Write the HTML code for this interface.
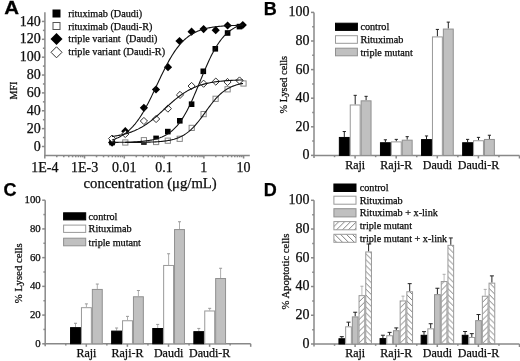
<!DOCTYPE html>
<html><head><meta charset="utf-8"><style>
html,body{margin:0;padding:0;background:#fff;}
body{width:520px;height:361px;overflow:hidden;}
svg{display:block;filter:grayscale(100%) blur(0.3px);}
text{stroke:#000;stroke-width:0.25px;}
</style></head><body>
<svg width="520" height="361" viewBox="0 0 520 361">
<rect width="520" height="361" fill="#fff"/>
<text x="0.00" y="0.00" font-family="'Liberation Sans', sans-serif" font-size="18" font-weight="700" text-anchor="start" fill="#000" transform="translate(4.2,13.9) scale(1.14,1)">A</text>
<text x="263.80" y="14.80" font-family="'Liberation Sans', sans-serif" font-size="18" font-weight="700" text-anchor="start" fill="#000" >B</text>
<text x="3.60" y="195.70" font-family="'Liberation Sans', sans-serif" font-size="18" font-weight="700" text-anchor="start" fill="#000" >C</text>
<text x="263.80" y="196.40" font-family="'Liberation Sans', sans-serif" font-size="18" font-weight="700" text-anchor="start" fill="#000" >D</text>
<line x1="44.90" y1="12.30" x2="44.90" y2="156.10" stroke="#888" stroke-width="1.5"/>
<line x1="44.30" y1="155.50" x2="249.80" y2="155.50" stroke="#888" stroke-width="1.5"/>
<line x1="41.90" y1="146.50" x2="44.90" y2="146.50" stroke="#888" stroke-width="1.5"/>
<text x="40.70" y="150.60" font-family="'Liberation Serif', serif" font-size="14" font-weight="400" text-anchor="end" fill="#111" >0</text>
<line x1="42.90" y1="137.57" x2="44.90" y2="137.57" stroke="#888" stroke-width="1.5"/>
<line x1="41.90" y1="128.63" x2="44.90" y2="128.63" stroke="#888" stroke-width="1.5"/>
<text x="40.70" y="132.73" font-family="'Liberation Serif', serif" font-size="14" font-weight="400" text-anchor="end" fill="#111" >20</text>
<line x1="42.90" y1="119.70" x2="44.90" y2="119.70" stroke="#888" stroke-width="1.5"/>
<line x1="41.90" y1="110.77" x2="44.90" y2="110.77" stroke="#888" stroke-width="1.5"/>
<text x="40.70" y="114.87" font-family="'Liberation Serif', serif" font-size="14" font-weight="400" text-anchor="end" fill="#111" >40</text>
<line x1="42.90" y1="101.84" x2="44.90" y2="101.84" stroke="#888" stroke-width="1.5"/>
<line x1="41.90" y1="92.90" x2="44.90" y2="92.90" stroke="#888" stroke-width="1.5"/>
<text x="40.70" y="97.00" font-family="'Liberation Serif', serif" font-size="14" font-weight="400" text-anchor="end" fill="#111" >60</text>
<line x1="42.90" y1="83.97" x2="44.90" y2="83.97" stroke="#888" stroke-width="1.5"/>
<line x1="41.90" y1="75.04" x2="44.90" y2="75.04" stroke="#888" stroke-width="1.5"/>
<text x="40.70" y="79.14" font-family="'Liberation Serif', serif" font-size="14" font-weight="400" text-anchor="end" fill="#111" >80</text>
<line x1="42.90" y1="66.10" x2="44.90" y2="66.10" stroke="#888" stroke-width="1.5"/>
<line x1="41.90" y1="57.17" x2="44.90" y2="57.17" stroke="#888" stroke-width="1.5"/>
<text x="40.70" y="61.27" font-family="'Liberation Serif', serif" font-size="14" font-weight="400" text-anchor="end" fill="#111" >100</text>
<line x1="42.90" y1="48.24" x2="44.90" y2="48.24" stroke="#888" stroke-width="1.5"/>
<line x1="41.90" y1="39.30" x2="44.90" y2="39.30" stroke="#888" stroke-width="1.5"/>
<text x="40.70" y="43.40" font-family="'Liberation Serif', serif" font-size="14" font-weight="400" text-anchor="end" fill="#111" >120</text>
<line x1="42.90" y1="30.37" x2="44.90" y2="30.37" stroke="#888" stroke-width="1.5"/>
<line x1="41.90" y1="21.44" x2="44.90" y2="21.44" stroke="#888" stroke-width="1.5"/>
<text x="40.70" y="25.54" font-family="'Liberation Serif', serif" font-size="14" font-weight="400" text-anchor="end" fill="#111" >140</text>
<line x1="44.80" y1="155.50" x2="44.80" y2="158.50" stroke="#888" stroke-width="1.5"/>
<text x="44.80" y="171.90" font-family="'Liberation Serif', serif" font-size="14" font-weight="400" text-anchor="middle" fill="#111" >1E-4</text>
<line x1="56.77" y1="155.50" x2="56.77" y2="157.30" stroke="#888" stroke-width="1.5"/>
<line x1="63.77" y1="155.50" x2="63.77" y2="157.30" stroke="#888" stroke-width="1.5"/>
<line x1="68.74" y1="155.50" x2="68.74" y2="157.30" stroke="#888" stroke-width="1.5"/>
<line x1="72.59" y1="155.50" x2="72.59" y2="157.30" stroke="#888" stroke-width="1.5"/>
<line x1="75.74" y1="155.50" x2="75.74" y2="157.30" stroke="#888" stroke-width="1.5"/>
<line x1="78.40" y1="155.50" x2="78.40" y2="157.30" stroke="#888" stroke-width="1.5"/>
<line x1="80.71" y1="155.50" x2="80.71" y2="157.30" stroke="#888" stroke-width="1.5"/>
<line x1="82.74" y1="155.50" x2="82.74" y2="157.30" stroke="#888" stroke-width="1.5"/>
<line x1="84.56" y1="155.50" x2="84.56" y2="158.50" stroke="#888" stroke-width="1.5"/>
<text x="84.56" y="171.90" font-family="'Liberation Serif', serif" font-size="14" font-weight="400" text-anchor="middle" fill="#111" >1E-3</text>
<line x1="96.53" y1="155.50" x2="96.53" y2="157.30" stroke="#888" stroke-width="1.5"/>
<line x1="103.53" y1="155.50" x2="103.53" y2="157.30" stroke="#888" stroke-width="1.5"/>
<line x1="108.50" y1="155.50" x2="108.50" y2="157.30" stroke="#888" stroke-width="1.5"/>
<line x1="112.35" y1="155.50" x2="112.35" y2="157.30" stroke="#888" stroke-width="1.5"/>
<line x1="115.50" y1="155.50" x2="115.50" y2="157.30" stroke="#888" stroke-width="1.5"/>
<line x1="118.16" y1="155.50" x2="118.16" y2="157.30" stroke="#888" stroke-width="1.5"/>
<line x1="120.47" y1="155.50" x2="120.47" y2="157.30" stroke="#888" stroke-width="1.5"/>
<line x1="122.50" y1="155.50" x2="122.50" y2="157.30" stroke="#888" stroke-width="1.5"/>
<line x1="124.32" y1="155.50" x2="124.32" y2="158.50" stroke="#888" stroke-width="1.5"/>
<text x="124.32" y="171.90" font-family="'Liberation Serif', serif" font-size="14" font-weight="400" text-anchor="middle" fill="#111" >0.01</text>
<line x1="136.29" y1="155.50" x2="136.29" y2="157.30" stroke="#888" stroke-width="1.5"/>
<line x1="143.29" y1="155.50" x2="143.29" y2="157.30" stroke="#888" stroke-width="1.5"/>
<line x1="148.26" y1="155.50" x2="148.26" y2="157.30" stroke="#888" stroke-width="1.5"/>
<line x1="152.11" y1="155.50" x2="152.11" y2="157.30" stroke="#888" stroke-width="1.5"/>
<line x1="155.26" y1="155.50" x2="155.26" y2="157.30" stroke="#888" stroke-width="1.5"/>
<line x1="157.92" y1="155.50" x2="157.92" y2="157.30" stroke="#888" stroke-width="1.5"/>
<line x1="160.23" y1="155.50" x2="160.23" y2="157.30" stroke="#888" stroke-width="1.5"/>
<line x1="162.26" y1="155.50" x2="162.26" y2="157.30" stroke="#888" stroke-width="1.5"/>
<line x1="164.08" y1="155.50" x2="164.08" y2="158.50" stroke="#888" stroke-width="1.5"/>
<text x="164.08" y="171.90" font-family="'Liberation Serif', serif" font-size="14" font-weight="400" text-anchor="middle" fill="#111" >0.1</text>
<line x1="176.05" y1="155.50" x2="176.05" y2="157.30" stroke="#888" stroke-width="1.5"/>
<line x1="183.05" y1="155.50" x2="183.05" y2="157.30" stroke="#888" stroke-width="1.5"/>
<line x1="188.02" y1="155.50" x2="188.02" y2="157.30" stroke="#888" stroke-width="1.5"/>
<line x1="191.87" y1="155.50" x2="191.87" y2="157.30" stroke="#888" stroke-width="1.5"/>
<line x1="195.02" y1="155.50" x2="195.02" y2="157.30" stroke="#888" stroke-width="1.5"/>
<line x1="197.68" y1="155.50" x2="197.68" y2="157.30" stroke="#888" stroke-width="1.5"/>
<line x1="199.99" y1="155.50" x2="199.99" y2="157.30" stroke="#888" stroke-width="1.5"/>
<line x1="202.02" y1="155.50" x2="202.02" y2="157.30" stroke="#888" stroke-width="1.5"/>
<line x1="203.84" y1="155.50" x2="203.84" y2="158.50" stroke="#888" stroke-width="1.5"/>
<text x="203.84" y="171.90" font-family="'Liberation Serif', serif" font-size="14" font-weight="400" text-anchor="middle" fill="#111" >1</text>
<line x1="215.81" y1="155.50" x2="215.81" y2="157.30" stroke="#888" stroke-width="1.5"/>
<line x1="222.81" y1="155.50" x2="222.81" y2="157.30" stroke="#888" stroke-width="1.5"/>
<line x1="227.78" y1="155.50" x2="227.78" y2="157.30" stroke="#888" stroke-width="1.5"/>
<line x1="231.63" y1="155.50" x2="231.63" y2="157.30" stroke="#888" stroke-width="1.5"/>
<line x1="234.78" y1="155.50" x2="234.78" y2="157.30" stroke="#888" stroke-width="1.5"/>
<line x1="237.44" y1="155.50" x2="237.44" y2="157.30" stroke="#888" stroke-width="1.5"/>
<line x1="239.75" y1="155.50" x2="239.75" y2="157.30" stroke="#888" stroke-width="1.5"/>
<line x1="241.78" y1="155.50" x2="241.78" y2="157.30" stroke="#888" stroke-width="1.5"/>
<line x1="243.60" y1="155.50" x2="243.60" y2="158.50" stroke="#888" stroke-width="1.5"/>
<text x="243.60" y="171.90" font-family="'Liberation Serif', serif" font-size="14" font-weight="400" text-anchor="middle" fill="#111" >10</text>
<text x="83.60" y="188.40" font-family="'Liberation Serif', serif" font-size="14.7" font-weight="400" text-anchor="start" fill="#111" >concentration (μg/mL)</text>
<text transform="translate(17.2,90.5) rotate(-90)" font-family="'Liberation Serif', serif" font-size="10" text-anchor="middle" fill="#111">MFI</text>
<rect x="52.50" y="9.50" width="8" height="8" fill="#000"/>
<rect x="53.00" y="22.50" width="7" height="7" fill="#fff" stroke="#555" stroke-width="1"/>
<polygon points="56.50,33.00 62.50,39.00 56.50,45.00 50.50,39.00" fill="#000"/>
<polygon points="56.50,46.80 62.00,52.30 56.50,57.80 51.00,52.30" fill="#fff" stroke="#333" stroke-width="1"/>
<text x="68.30" y="16.80" font-family="'Liberation Serif', serif" font-size="10.2" font-weight="400" text-anchor="start" fill="#111" >rituximab (Daudi)</text>
<text x="68.30" y="29.60" font-family="'Liberation Serif', serif" font-size="10.2" font-weight="400" text-anchor="start" fill="#111" >rituximab (Daudi-R)</text>
<text x="68.30" y="42.40" font-family="'Liberation Serif', serif" font-size="10.2" font-weight="400" text-anchor="start" fill="#111" >triple variant&#160; (Daudi)</text>
<text x="68.30" y="55.20" font-family="'Liberation Serif', serif" font-size="10.2" font-weight="400" text-anchor="start" fill="#111" >triple variant (Daudi-R)</text>
<rect x="109.30" y="139.70" width="5.6" height="5.6" fill="#000"/>
<rect x="141.10" y="139.20" width="5.6" height="5.6" fill="#000"/>
<rect x="153.30" y="135.60" width="5.6" height="5.6" fill="#000"/>
<rect x="165.00" y="128.80" width="5.6" height="5.6" fill="#000"/>
<rect x="177.00" y="118.00" width="5.6" height="5.6" fill="#000"/>
<rect x="188.80" y="101.40" width="5.6" height="5.6" fill="#000"/>
<rect x="200.50" y="68.50" width="5.6" height="5.6" fill="#000"/>
<rect x="212.50" y="46.00" width="5.6" height="5.6" fill="#000"/>
<rect x="224.80" y="30.20" width="5.6" height="5.6" fill="#000"/>
<rect x="236.70" y="23.80" width="5.6" height="5.6" fill="#000"/>
<rect x="122.70" y="139.90" width="5.2" height="5.2" fill="#fff" stroke="#888" stroke-width="1"/>
<rect x="141.30" y="137.60" width="5.2" height="5.2" fill="#fff" stroke="#888" stroke-width="1"/>
<rect x="153.50" y="139.40" width="5.2" height="5.2" fill="#fff" stroke="#888" stroke-width="1"/>
<rect x="165.20" y="138.10" width="5.2" height="5.2" fill="#fff" stroke="#888" stroke-width="1"/>
<rect x="177.10" y="136.20" width="5.2" height="5.2" fill="#fff" stroke="#888" stroke-width="1"/>
<rect x="189.10" y="125.30" width="5.2" height="5.2" fill="#fff" stroke="#888" stroke-width="1"/>
<rect x="201.00" y="111.50" width="5.2" height="5.2" fill="#fff" stroke="#888" stroke-width="1"/>
<rect x="213.00" y="96.20" width="5.2" height="5.2" fill="#fff" stroke="#888" stroke-width="1"/>
<rect x="225.00" y="86.70" width="5.2" height="5.2" fill="#fff" stroke="#888" stroke-width="1"/>
<rect x="240.90" y="80.90" width="5.2" height="5.2" fill="#fff" stroke="#888" stroke-width="1"/>
<polygon points="112.10,138.50 116.20,142.60 112.10,146.70 108.00,142.60" fill="#000"/>
<polygon points="125.30,127.10 129.40,131.20 125.30,135.30 121.20,131.20" fill="#000"/>
<polygon points="143.90,103.70 148.00,107.80 143.90,111.90 139.80,107.80" fill="#000"/>
<polygon points="156.00,85.40 160.10,89.50 156.00,93.60 151.90,89.50" fill="#000"/>
<polygon points="168.00,63.10 172.10,67.20 168.00,71.30 163.90,67.20" fill="#000"/>
<polygon points="179.50,36.90 183.60,41.00 179.50,45.10 175.40,41.00" fill="#000"/>
<polygon points="191.60,27.60 195.70,31.70 191.60,35.80 187.50,31.70" fill="#000"/>
<polygon points="203.60,25.00 207.70,29.10 203.60,33.20 199.50,29.10" fill="#000"/>
<polygon points="215.70,26.10 219.80,30.20 215.70,34.30 211.60,30.20" fill="#000"/>
<polygon points="227.60,21.40 231.70,25.50 227.60,29.60 223.50,25.50" fill="#000"/>
<polygon points="242.80,20.90 246.90,25.00 242.80,29.10 238.70,25.00" fill="#000"/>
<polygon points="112.10,135.00 115.70,138.60 112.10,142.20 108.50,138.60" fill="#fff" stroke="#333" stroke-width="1"/>
<polygon points="125.30,130.40 128.90,134.00 125.30,137.60 121.70,134.00" fill="#fff" stroke="#333" stroke-width="1"/>
<polygon points="143.90,117.40 147.50,121.00 143.90,124.60 140.30,121.00" fill="#fff" stroke="#333" stroke-width="1"/>
<polygon points="156.10,115.40 159.70,119.00 156.10,122.60 152.50,119.00" fill="#fff" stroke="#333" stroke-width="1"/>
<polygon points="167.90,105.00 171.50,108.60 167.90,112.20 164.30,108.60" fill="#fff" stroke="#333" stroke-width="1"/>
<polygon points="180.00,91.30 183.60,94.90 180.00,98.50 176.40,94.90" fill="#fff" stroke="#333" stroke-width="1"/>
<polygon points="191.60,82.40 195.20,86.00 191.60,89.60 188.00,86.00" fill="#fff" stroke="#333" stroke-width="1"/>
<polygon points="203.60,80.10 207.20,83.70 203.60,87.30 200.00,83.70" fill="#fff" stroke="#333" stroke-width="1"/>
<polygon points="215.80,78.00 219.40,81.60 215.80,85.20 212.20,81.60" fill="#fff" stroke="#333" stroke-width="1"/>
<polygon points="227.50,78.40 231.10,82.00 227.50,85.60 223.90,82.00" fill="#fff" stroke="#333" stroke-width="1"/>
<polygon points="239.50,76.90 243.10,80.50 239.50,84.10 235.90,80.50" fill="#fff" stroke="#333" stroke-width="1"/>
<path d="M112.00,139.98 L113.00,139.65 L114.00,139.30 L115.00,138.93 L116.00,138.53 L117.00,138.10 L118.00,137.65 L119.00,137.17 L120.00,136.65 L121.00,136.11 L122.00,135.53 L123.00,134.91 L124.00,134.25 L125.00,133.56 L126.00,132.82 L127.00,132.04 L128.00,131.22 L129.00,130.34 L130.00,129.42 L131.00,128.45 L132.00,127.43 L133.00,126.35 L134.00,125.22 L135.00,124.03 L136.00,122.78 L137.00,121.48 L138.00,120.12 L139.00,118.70 L140.00,117.22 L141.00,115.68 L142.00,114.09 L143.00,112.43 L144.00,110.73 L145.00,108.97 L146.00,107.15 L147.00,105.29 L148.00,103.39 L149.00,101.44 L150.00,99.45 L151.00,97.42 L152.00,95.37 L153.00,93.29 L154.00,91.18 L155.00,89.06 L156.00,86.93 L157.00,84.80 L158.00,82.67 L159.00,80.54 L160.00,78.42 L161.00,76.31 L162.00,74.23 L163.00,72.18 L164.00,70.15 L165.00,68.16 L166.00,66.21 L167.00,64.31 L168.00,62.45 L169.00,60.63 L170.00,58.87 L171.00,57.17 L172.00,55.51 L173.00,53.92 L174.00,52.38 L175.00,50.90 L176.00,49.48 L177.00,48.12 L178.00,46.82 L179.00,45.57 L180.00,44.38 L181.00,43.25 L182.00,42.17 L183.00,41.15 L184.00,40.18 L185.00,39.26 L186.00,38.38 L187.00,37.56 L188.00,36.78 L189.00,36.04 L190.00,35.35 L191.00,34.69 L192.00,34.07 L193.00,33.49 L194.00,32.95 L195.00,32.43 L196.00,31.95 L197.00,31.50 L198.00,31.07 L199.00,30.67 L200.00,30.30 L201.00,29.95 L202.00,29.62 L203.00,29.31 L204.00,29.03 L205.00,28.76 L206.00,28.51 L207.00,28.27 L208.00,28.05 L209.00,27.85 L210.00,27.65 L211.00,27.47 L212.00,27.31 L213.00,27.15 L214.00,27.01 L215.00,26.87 L216.00,26.74 L217.00,26.62 L218.00,26.51 L219.00,26.41 L220.00,26.31 L221.00,26.22 L222.00,26.14 L223.00,26.06 L224.00,25.99 L225.00,25.92 L226.00,25.86 L227.00,25.80 L228.00,25.75 L229.00,25.69 L230.00,25.65 L231.00,25.60 L232.00,25.56 L233.00,25.52 L234.00,25.49 L235.00,25.45 L236.00,25.42 L237.00,25.39 L238.00,25.37 L239.00,25.34 L240.00,25.32 L241.00,25.30 L242.00,25.28 L243.00,25.26" fill="none" stroke="#111" stroke-width="1.1"/>
<path d="M112.00,136.46 L113.00,136.33 L114.00,136.19 L115.00,136.04 L116.00,135.88 L117.00,135.71 L118.00,135.54 L119.00,135.35 L120.00,135.15 L121.00,134.94 L122.00,134.72 L123.00,134.49 L124.00,134.24 L125.00,133.99 L126.00,133.71 L127.00,133.42 L128.00,133.12 L129.00,132.80 L130.00,132.47 L131.00,132.12 L132.00,131.75 L133.00,131.36 L134.00,130.95 L135.00,130.53 L136.00,130.08 L137.00,129.61 L138.00,129.13 L139.00,128.62 L140.00,128.09 L141.00,127.54 L142.00,126.97 L143.00,126.37 L144.00,125.76 L145.00,125.12 L146.00,124.45 L147.00,123.77 L148.00,123.07 L149.00,122.34 L150.00,121.59 L151.00,120.83 L152.00,120.04 L153.00,119.23 L154.00,118.41 L155.00,117.57 L156.00,116.72 L157.00,115.85 L158.00,114.97 L159.00,114.08 L160.00,113.18 L161.00,112.27 L162.00,111.35 L163.00,110.43 L164.00,109.51 L165.00,108.59 L166.00,107.67 L167.00,106.75 L168.00,105.83 L169.00,104.92 L170.00,104.02 L171.00,103.13 L172.00,102.25 L173.00,101.38 L174.00,100.53 L175.00,99.69 L176.00,98.87 L177.00,98.06 L178.00,97.27 L179.00,96.51 L180.00,95.76 L181.00,95.03 L182.00,94.33 L183.00,93.65 L184.00,92.98 L185.00,92.34 L186.00,91.73 L187.00,91.13 L188.00,90.56 L189.00,90.01 L190.00,89.48 L191.00,88.97 L192.00,88.49 L193.00,88.02 L194.00,87.57 L195.00,87.15 L196.00,86.74 L197.00,86.35 L198.00,85.98 L199.00,85.63 L200.00,85.30 L201.00,84.98 L202.00,84.68 L203.00,84.39 L204.00,84.11 L205.00,83.86 L206.00,83.61 L207.00,83.38 L208.00,83.16 L209.00,82.95 L210.00,82.75 L211.00,82.56 L212.00,82.39 L213.00,82.22 L214.00,82.06 L215.00,81.91 L216.00,81.77 L217.00,81.64 L218.00,81.52 L219.00,81.40 L220.00,81.29 L221.00,81.18 L222.00,81.08 L223.00,80.99 L224.00,80.90 L225.00,80.82 L226.00,80.74 L227.00,80.67 L228.00,80.60 L229.00,80.53 L230.00,80.47 L231.00,80.41 L232.00,80.36 L233.00,80.31 L234.00,80.26 L235.00,80.21 L236.00,80.17 L237.00,80.13 L238.00,80.09 L239.00,80.06 L240.00,80.02 L241.00,79.99 L242.00,79.96 L243.00,79.93" fill="none" stroke="#111" stroke-width="1.1"/>
<path d="M112.00,142.39 L113.00,142.38 L114.00,142.37 L115.00,142.36 L116.00,142.35 L117.00,142.34 L118.00,142.33 L119.00,142.31 L120.00,142.30 L121.00,142.28 L122.00,142.26 L123.00,142.24 L124.00,142.22 L125.00,142.20 L126.00,142.17 L127.00,142.15 L128.00,142.12 L129.00,142.09 L130.00,142.05 L131.00,142.01 L132.00,141.97 L133.00,141.93 L134.00,141.88 L135.00,141.83 L136.00,141.78 L137.00,141.72 L138.00,141.65 L139.00,141.58 L140.00,141.50 L141.00,141.42 L142.00,141.33 L143.00,141.24 L144.00,141.13 L145.00,141.02 L146.00,140.90 L147.00,140.77 L148.00,140.63 L149.00,140.47 L150.00,140.31 L151.00,140.13 L152.00,139.94 L153.00,139.73 L154.00,139.50 L155.00,139.26 L156.00,139.00 L157.00,138.71 L158.00,138.41 L159.00,138.08 L160.00,137.73 L161.00,137.34 L162.00,136.94 L163.00,136.49 L164.00,136.02 L165.00,135.51 L166.00,134.97 L167.00,134.38 L168.00,133.75 L169.00,133.08 L170.00,132.36 L171.00,131.59 L172.00,130.77 L173.00,129.90 L174.00,128.96 L175.00,127.97 L176.00,126.91 L177.00,125.79 L178.00,124.61 L179.00,123.35 L180.00,122.02 L181.00,120.62 L182.00,119.15 L183.00,117.60 L184.00,115.98 L185.00,114.28 L186.00,112.51 L187.00,110.67 L188.00,108.75 L189.00,106.76 L190.00,104.71 L191.00,102.59 L192.00,100.41 L193.00,98.18 L194.00,95.90 L195.00,93.58 L196.00,91.22 L197.00,88.83 L198.00,86.42 L199.00,83.99 L200.00,81.55 L201.00,79.11 L202.00,76.68 L203.00,74.27 L204.00,71.88 L205.00,69.52 L206.00,67.20 L207.00,64.92 L208.00,62.69 L209.00,60.51 L210.00,58.39 L211.00,56.34 L212.00,54.35 L213.00,52.43 L214.00,50.59 L215.00,48.82 L216.00,47.12 L217.00,45.50 L218.00,43.95 L219.00,42.48 L220.00,41.08 L221.00,39.75 L222.00,38.49 L223.00,37.31 L224.00,36.19 L225.00,35.13 L226.00,34.14 L227.00,33.20 L228.00,32.33 L229.00,31.51 L230.00,30.74 L231.00,30.02 L232.00,29.35 L233.00,28.72 L234.00,28.13 L235.00,27.59 L236.00,27.08 L237.00,26.61 L238.00,26.16 L239.00,25.76 L240.00,25.37 L241.00,25.02 L242.00,24.69 L243.00,24.39" fill="none" stroke="#111" stroke-width="1.1"/>
<path d="M125.00,142.46 L126.00,142.46 L127.00,142.45 L128.00,142.45 L129.00,142.44 L130.00,142.44 L131.00,142.43 L132.00,142.42 L133.00,142.42 L134.00,142.41 L135.00,142.40 L136.00,142.39 L137.00,142.38 L138.00,142.37 L139.00,142.36 L140.00,142.34 L141.00,142.33 L142.00,142.31 L143.00,142.29 L144.00,142.27 L145.00,142.25 L146.00,142.23 L147.00,142.20 L148.00,142.17 L149.00,142.14 L150.00,142.11 L151.00,142.07 L152.00,142.03 L153.00,141.99 L154.00,141.94 L155.00,141.89 L156.00,141.83 L157.00,141.77 L158.00,141.70 L159.00,141.62 L160.00,141.54 L161.00,141.45 L162.00,141.35 L163.00,141.25 L164.00,141.13 L165.00,141.00 L166.00,140.86 L167.00,140.71 L168.00,140.55 L169.00,140.37 L170.00,140.17 L171.00,139.96 L172.00,139.73 L173.00,139.48 L174.00,139.21 L175.00,138.91 L176.00,138.59 L177.00,138.25 L178.00,137.87 L179.00,137.47 L180.00,137.03 L181.00,136.56 L182.00,136.06 L183.00,135.51 L184.00,134.93 L185.00,134.31 L186.00,133.64 L187.00,132.93 L188.00,132.18 L189.00,131.37 L190.00,130.52 L191.00,129.62 L192.00,128.67 L193.00,127.68 L194.00,126.63 L195.00,125.54 L196.00,124.41 L197.00,123.23 L198.00,122.01 L199.00,120.76 L200.00,119.47 L201.00,118.15 L202.00,116.81 L203.00,115.45 L204.00,114.08 L205.00,112.69 L206.00,111.31 L207.00,109.92 L208.00,108.55 L209.00,107.19 L210.00,105.85 L211.00,104.53 L212.00,103.24 L213.00,101.99 L214.00,100.77 L215.00,99.59 L216.00,98.46 L217.00,97.37 L218.00,96.32 L219.00,95.33 L220.00,94.38 L221.00,93.48 L222.00,92.63 L223.00,91.82 L224.00,91.07 L225.00,90.36 L226.00,89.69 L227.00,89.07 L228.00,88.49 L229.00,87.94 L230.00,87.44 L231.00,86.97 L232.00,86.53 L233.00,86.13 L234.00,85.75 L235.00,85.41 L236.00,85.09 L237.00,84.79 L238.00,84.52 L239.00,84.27 L240.00,84.04 L241.00,83.83 L242.00,83.63 L243.00,83.45" fill="none" stroke="#111" stroke-width="1.1"/>
<defs><pattern id="hf" patternUnits="userSpaceOnUse" width="5.9" height="5.9"><path d="M-1,6.9 L6.9,-1 M-1,1 L1,-1 M4.9,6.9 L6.9,4.9" stroke="#666" stroke-width="0.85"/></pattern><pattern id="hb" patternUnits="userSpaceOnUse" width="5.9" height="5.9"><path d="M-1,-1 L6.9,6.9 M4.9,-1 L6.9,1 M-1,4.9 L1,6.9" stroke="#666" stroke-width="0.85"/></pattern></defs>
<line x1="314.00" y1="12.40" x2="314.00" y2="157.90" stroke="#888" stroke-width="1.5"/>
<line x1="313.40" y1="155.40" x2="519.50" y2="155.40" stroke="#888" stroke-width="1.5"/>
<line x1="311.00" y1="155.40" x2="314.00" y2="155.40" stroke="#888" stroke-width="1.5"/>
<text x="309.50" y="159.36" font-family="'Liberation Serif', serif" font-size="14" font-weight="400" text-anchor="end" fill="#111" >0</text>
<line x1="312.20" y1="141.10" x2="314.00" y2="141.10" stroke="#888" stroke-width="1.5"/>
<line x1="311.00" y1="126.80" x2="314.00" y2="126.80" stroke="#888" stroke-width="1.5"/>
<text x="309.50" y="130.76" font-family="'Liberation Serif', serif" font-size="14" font-weight="400" text-anchor="end" fill="#111" >20</text>
<line x1="312.20" y1="112.50" x2="314.00" y2="112.50" stroke="#888" stroke-width="1.5"/>
<line x1="311.00" y1="98.20" x2="314.00" y2="98.20" stroke="#888" stroke-width="1.5"/>
<text x="309.50" y="102.16" font-family="'Liberation Serif', serif" font-size="14" font-weight="400" text-anchor="end" fill="#111" >40</text>
<line x1="312.20" y1="83.90" x2="314.00" y2="83.90" stroke="#888" stroke-width="1.5"/>
<line x1="311.00" y1="69.60" x2="314.00" y2="69.60" stroke="#888" stroke-width="1.5"/>
<text x="309.50" y="73.56" font-family="'Liberation Serif', serif" font-size="14" font-weight="400" text-anchor="end" fill="#111" >60</text>
<line x1="312.20" y1="55.30" x2="314.00" y2="55.30" stroke="#888" stroke-width="1.5"/>
<line x1="311.00" y1="41.00" x2="314.00" y2="41.00" stroke="#888" stroke-width="1.5"/>
<text x="309.50" y="44.96" font-family="'Liberation Serif', serif" font-size="14" font-weight="400" text-anchor="end" fill="#111" >80</text>
<line x1="312.20" y1="26.70" x2="314.00" y2="26.70" stroke="#888" stroke-width="1.5"/>
<line x1="311.00" y1="12.40" x2="314.00" y2="12.40" stroke="#888" stroke-width="1.5"/>
<text x="309.50" y="16.36" font-family="'Liberation Serif', serif" font-size="14" font-weight="400" text-anchor="end" fill="#111" >100</text>
<line x1="334.55" y1="155.40" x2="334.55" y2="157.20" stroke="#888" stroke-width="1.5"/>
<line x1="355.10" y1="155.40" x2="355.10" y2="158.40" stroke="#888" stroke-width="1.5"/>
<line x1="375.65" y1="155.40" x2="375.65" y2="157.20" stroke="#888" stroke-width="1.5"/>
<line x1="396.20" y1="155.40" x2="396.20" y2="158.40" stroke="#888" stroke-width="1.5"/>
<line x1="416.75" y1="155.40" x2="416.75" y2="157.20" stroke="#888" stroke-width="1.5"/>
<line x1="437.30" y1="155.40" x2="437.30" y2="158.40" stroke="#888" stroke-width="1.5"/>
<line x1="457.85" y1="155.40" x2="457.85" y2="157.20" stroke="#888" stroke-width="1.5"/>
<line x1="478.40" y1="155.40" x2="478.40" y2="158.40" stroke="#888" stroke-width="1.5"/>
<line x1="498.95" y1="155.40" x2="498.95" y2="157.20" stroke="#888" stroke-width="1.5"/>
<line x1="519.50" y1="155.40" x2="519.50" y2="158.40" stroke="#888" stroke-width="1.5"/>
<text x="355.20" y="168.50" font-family="'Liberation Serif', serif" font-size="12" font-weight="400" text-anchor="middle" fill="#111" >Raji</text>
<line x1="344.30" y1="136.95" x2="344.30" y2="131.52" stroke="#222" stroke-width="1"/>
<line x1="342.70" y1="131.52" x2="345.90" y2="131.52" stroke="#222" stroke-width="1"/>
<rect x="339.35" y="137.45" width="9.90" height="17.95" fill="#000" stroke="#000" stroke-width="1"/>
<line x1="355.20" y1="104.49" x2="355.20" y2="95.34" stroke="#222" stroke-width="1"/>
<line x1="353.60" y1="95.34" x2="356.80" y2="95.34" stroke="#222" stroke-width="1"/>
<rect x="350.25" y="104.99" width="9.90" height="50.41" fill="#fff" stroke="#999" stroke-width="1"/>
<line x1="366.10" y1="100.34" x2="366.10" y2="96.34" stroke="#222" stroke-width="1"/>
<line x1="364.50" y1="96.34" x2="367.70" y2="96.34" stroke="#222" stroke-width="1"/>
<rect x="361.15" y="100.84" width="9.90" height="54.56" fill="#c0c0c0" stroke="#909090" stroke-width="1"/>
<text x="396.30" y="168.50" font-family="'Liberation Serif', serif" font-size="12" font-weight="400" text-anchor="middle" fill="#111" >Raji-R</text>
<line x1="385.40" y1="142.24" x2="385.40" y2="139.81" stroke="#222" stroke-width="1"/>
<line x1="383.80" y1="139.81" x2="387.00" y2="139.81" stroke="#222" stroke-width="1"/>
<rect x="380.45" y="142.74" width="9.90" height="12.66" fill="#000" stroke="#000" stroke-width="1"/>
<line x1="396.30" y1="141.39" x2="396.30" y2="139.38" stroke="#222" stroke-width="1"/>
<line x1="394.70" y1="139.38" x2="397.90" y2="139.38" stroke="#222" stroke-width="1"/>
<rect x="391.35" y="141.89" width="9.90" height="13.51" fill="#fff" stroke="#999" stroke-width="1"/>
<line x1="407.20" y1="139.67" x2="407.20" y2="136.67" stroke="#222" stroke-width="1"/>
<line x1="405.60" y1="136.67" x2="408.80" y2="136.67" stroke="#222" stroke-width="1"/>
<rect x="402.25" y="140.17" width="9.90" height="15.23" fill="#c0c0c0" stroke="#909090" stroke-width="1"/>
<text x="437.40" y="168.50" font-family="'Liberation Serif', serif" font-size="12" font-weight="400" text-anchor="middle" fill="#111" >Daudi</text>
<line x1="426.50" y1="139.10" x2="426.50" y2="135.95" stroke="#222" stroke-width="1"/>
<line x1="424.90" y1="135.95" x2="428.10" y2="135.95" stroke="#222" stroke-width="1"/>
<rect x="421.55" y="139.60" width="9.90" height="15.80" fill="#000" stroke="#000" stroke-width="1"/>
<line x1="437.40" y1="36.42" x2="437.40" y2="29.42" stroke="#222" stroke-width="1"/>
<line x1="435.80" y1="29.42" x2="439.00" y2="29.42" stroke="#222" stroke-width="1"/>
<rect x="432.45" y="36.92" width="9.90" height="118.48" fill="#fff" stroke="#999" stroke-width="1"/>
<line x1="448.30" y1="28.56" x2="448.30" y2="22.12" stroke="#222" stroke-width="1"/>
<line x1="446.70" y1="22.12" x2="449.90" y2="22.12" stroke="#222" stroke-width="1"/>
<rect x="443.35" y="29.06" width="9.90" height="126.34" fill="#c0c0c0" stroke="#909090" stroke-width="1"/>
<text x="478.50" y="168.50" font-family="'Liberation Serif', serif" font-size="12" font-weight="400" text-anchor="middle" fill="#111" >Daudi-R</text>
<line x1="467.60" y1="142.24" x2="467.60" y2="139.38" stroke="#222" stroke-width="1"/>
<line x1="466.00" y1="139.38" x2="469.20" y2="139.38" stroke="#222" stroke-width="1"/>
<rect x="462.65" y="142.74" width="9.90" height="12.66" fill="#000" stroke="#000" stroke-width="1"/>
<line x1="478.50" y1="140.24" x2="478.50" y2="137.38" stroke="#222" stroke-width="1"/>
<line x1="476.90" y1="137.38" x2="480.10" y2="137.38" stroke="#222" stroke-width="1"/>
<rect x="473.55" y="140.74" width="9.90" height="14.66" fill="#fff" stroke="#999" stroke-width="1"/>
<line x1="489.40" y1="138.96" x2="489.40" y2="135.24" stroke="#222" stroke-width="1"/>
<line x1="487.80" y1="135.24" x2="491.00" y2="135.24" stroke="#222" stroke-width="1"/>
<rect x="484.45" y="139.46" width="9.90" height="15.94" fill="#c0c0c0" stroke="#909090" stroke-width="1"/>
<rect x="335.50" y="23.20" width="21.90" height="7.20" fill="#000" stroke="#000" stroke-width="1"/>
<text x="360.40" y="30.40" font-family="'Liberation Serif', serif" font-size="10.2" font-weight="400" text-anchor="start" fill="#111" >control</text>
<rect x="335.50" y="35.70" width="21.90" height="7.60" fill="#fff" stroke="#999" stroke-width="1"/>
<text x="360.40" y="43.10" font-family="'Liberation Serif', serif" font-size="10.2" font-weight="400" text-anchor="start" fill="#111" >Rituximab</text>
<rect x="335.50" y="48.20" width="21.90" height="7.60" fill="#c0c0c0" stroke="#909090" stroke-width="1"/>
<text x="360.40" y="55.60" font-family="'Liberation Serif', serif" font-size="10.2" font-weight="400" text-anchor="start" fill="#111" >triple mutant</text>
<text transform="translate(287.4,84.75) rotate(-90)" font-family="'Liberation Serif', serif" font-size="10.4" text-anchor="middle" fill="#111">% Lysed cells</text>
<line x1="45.20" y1="200.20" x2="45.20" y2="346.30" stroke="#888" stroke-width="1.5"/>
<line x1="44.60" y1="343.80" x2="250.70" y2="343.80" stroke="#888" stroke-width="1.5"/>
<line x1="42.20" y1="343.80" x2="45.20" y2="343.80" stroke="#888" stroke-width="1.5"/>
<text x="40.70" y="346.67" font-family="'Liberation Serif', serif" font-size="10.8" font-weight="400" text-anchor="end" fill="#111" >0</text>
<line x1="43.40" y1="329.44" x2="45.20" y2="329.44" stroke="#888" stroke-width="1.5"/>
<line x1="42.20" y1="315.08" x2="45.20" y2="315.08" stroke="#888" stroke-width="1.5"/>
<text x="40.70" y="317.95" font-family="'Liberation Serif', serif" font-size="10.8" font-weight="400" text-anchor="end" fill="#111" >20</text>
<line x1="43.40" y1="300.72" x2="45.20" y2="300.72" stroke="#888" stroke-width="1.5"/>
<line x1="42.20" y1="286.36" x2="45.20" y2="286.36" stroke="#888" stroke-width="1.5"/>
<text x="40.70" y="289.23" font-family="'Liberation Serif', serif" font-size="10.8" font-weight="400" text-anchor="end" fill="#111" >40</text>
<line x1="43.40" y1="272.00" x2="45.20" y2="272.00" stroke="#888" stroke-width="1.5"/>
<line x1="42.20" y1="257.64" x2="45.20" y2="257.64" stroke="#888" stroke-width="1.5"/>
<text x="40.70" y="260.51" font-family="'Liberation Serif', serif" font-size="10.8" font-weight="400" text-anchor="end" fill="#111" >60</text>
<line x1="43.40" y1="243.28" x2="45.20" y2="243.28" stroke="#888" stroke-width="1.5"/>
<line x1="42.20" y1="228.92" x2="45.20" y2="228.92" stroke="#888" stroke-width="1.5"/>
<text x="40.70" y="231.79" font-family="'Liberation Serif', serif" font-size="10.8" font-weight="400" text-anchor="end" fill="#111" >80</text>
<line x1="43.40" y1="214.56" x2="45.20" y2="214.56" stroke="#888" stroke-width="1.5"/>
<line x1="42.20" y1="200.20" x2="45.20" y2="200.20" stroke="#888" stroke-width="1.5"/>
<text x="40.70" y="203.07" font-family="'Liberation Serif', serif" font-size="10.8" font-weight="400" text-anchor="end" fill="#111" >100</text>
<line x1="65.75" y1="343.80" x2="65.75" y2="345.60" stroke="#888" stroke-width="1.5"/>
<line x1="86.30" y1="343.80" x2="86.30" y2="346.80" stroke="#888" stroke-width="1.5"/>
<line x1="106.85" y1="343.80" x2="106.85" y2="345.60" stroke="#888" stroke-width="1.5"/>
<line x1="127.40" y1="343.80" x2="127.40" y2="346.80" stroke="#888" stroke-width="1.5"/>
<line x1="147.95" y1="343.80" x2="147.95" y2="345.60" stroke="#888" stroke-width="1.5"/>
<line x1="168.50" y1="343.80" x2="168.50" y2="346.80" stroke="#888" stroke-width="1.5"/>
<line x1="189.05" y1="343.80" x2="189.05" y2="345.60" stroke="#888" stroke-width="1.5"/>
<line x1="209.60" y1="343.80" x2="209.60" y2="346.80" stroke="#888" stroke-width="1.5"/>
<line x1="230.15" y1="343.80" x2="230.15" y2="345.60" stroke="#888" stroke-width="1.5"/>
<line x1="250.70" y1="343.80" x2="250.70" y2="346.80" stroke="#888" stroke-width="1.5"/>
<text x="86.40" y="357.10" font-family="'Liberation Serif', serif" font-size="12" font-weight="400" text-anchor="middle" fill="#111" >Raji</text>
<line x1="75.50" y1="327.14" x2="75.50" y2="323.27" stroke="#999" stroke-width="0.8"/>
<line x1="74.00" y1="323.27" x2="77.00" y2="323.27" stroke="#999" stroke-width="1"/>
<rect x="70.55" y="327.64" width="9.90" height="16.16" fill="#000" stroke="#000" stroke-width="1"/>
<line x1="86.40" y1="307.18" x2="86.40" y2="303.88" stroke="#999" stroke-width="0.8"/>
<line x1="84.90" y1="303.88" x2="87.90" y2="303.88" stroke="#999" stroke-width="1"/>
<rect x="81.45" y="307.68" width="9.90" height="36.12" fill="#fff" stroke="#999" stroke-width="1"/>
<line x1="97.30" y1="288.94" x2="97.30" y2="284.06" stroke="#999" stroke-width="0.8"/>
<line x1="95.80" y1="284.06" x2="98.80" y2="284.06" stroke="#999" stroke-width="1"/>
<rect x="92.35" y="289.44" width="9.90" height="54.36" fill="#c0c0c0" stroke="#909090" stroke-width="1"/>
<text x="127.50" y="357.10" font-family="'Liberation Serif', serif" font-size="12" font-weight="400" text-anchor="middle" fill="#111" >Raji-R</text>
<line x1="116.60" y1="330.59" x2="116.60" y2="328.00" stroke="#999" stroke-width="0.8"/>
<line x1="115.10" y1="328.00" x2="118.10" y2="328.00" stroke="#999" stroke-width="1"/>
<rect x="111.65" y="331.09" width="9.90" height="12.71" fill="#000" stroke="#000" stroke-width="1"/>
<line x1="127.50" y1="320.25" x2="127.50" y2="316.37" stroke="#999" stroke-width="0.8"/>
<line x1="126.00" y1="316.37" x2="129.00" y2="316.37" stroke="#999" stroke-width="1"/>
<rect x="122.55" y="320.75" width="9.90" height="23.05" fill="#fff" stroke="#999" stroke-width="1"/>
<line x1="138.40" y1="296.27" x2="138.40" y2="290.52" stroke="#999" stroke-width="0.8"/>
<line x1="136.90" y1="290.52" x2="139.90" y2="290.52" stroke="#999" stroke-width="1"/>
<rect x="133.45" y="296.77" width="9.90" height="47.03" fill="#c0c0c0" stroke="#909090" stroke-width="1"/>
<text x="168.60" y="357.10" font-family="'Liberation Serif', serif" font-size="12" font-weight="400" text-anchor="middle" fill="#111" >Daudi</text>
<line x1="157.70" y1="328.00" x2="157.70" y2="324.41" stroke="#999" stroke-width="0.8"/>
<line x1="156.20" y1="324.41" x2="159.20" y2="324.41" stroke="#999" stroke-width="1"/>
<rect x="152.75" y="328.50" width="9.90" height="15.30" fill="#000" stroke="#000" stroke-width="1"/>
<line x1="168.60" y1="264.96" x2="168.60" y2="253.76" stroke="#999" stroke-width="0.8"/>
<line x1="167.10" y1="253.76" x2="170.10" y2="253.76" stroke="#999" stroke-width="1"/>
<rect x="163.65" y="265.46" width="9.90" height="78.34" fill="#fff" stroke="#999" stroke-width="1"/>
<line x1="179.50" y1="229.06" x2="179.50" y2="221.74" stroke="#999" stroke-width="0.8"/>
<line x1="178.00" y1="221.74" x2="181.00" y2="221.74" stroke="#999" stroke-width="1"/>
<rect x="174.55" y="229.56" width="9.90" height="114.24" fill="#c0c0c0" stroke="#909090" stroke-width="1"/>
<text x="209.70" y="357.10" font-family="'Liberation Serif', serif" font-size="12" font-weight="400" text-anchor="middle" fill="#111" >Daudi-R</text>
<line x1="198.80" y1="331.16" x2="198.80" y2="328.43" stroke="#999" stroke-width="0.8"/>
<line x1="197.30" y1="328.43" x2="200.30" y2="328.43" stroke="#999" stroke-width="1"/>
<rect x="193.85" y="331.66" width="9.90" height="12.14" fill="#000" stroke="#000" stroke-width="1"/>
<line x1="209.70" y1="310.48" x2="209.70" y2="308.33" stroke="#999" stroke-width="0.8"/>
<line x1="208.20" y1="308.33" x2="211.20" y2="308.33" stroke="#999" stroke-width="1"/>
<rect x="204.75" y="310.98" width="9.90" height="32.82" fill="#fff" stroke="#999" stroke-width="1"/>
<line x1="220.60" y1="278.03" x2="220.60" y2="268.27" stroke="#999" stroke-width="0.8"/>
<line x1="219.10" y1="268.27" x2="222.10" y2="268.27" stroke="#999" stroke-width="1"/>
<rect x="215.65" y="278.53" width="9.90" height="65.27" fill="#c0c0c0" stroke="#909090" stroke-width="1"/>
<rect x="63.60" y="212.80" width="22.10" height="7.10" fill="#000" stroke="#000" stroke-width="1"/>
<text x="88.60" y="219.95" font-family="'Liberation Serif', serif" font-size="10.2" font-weight="400" text-anchor="start" fill="#111" >control</text>
<rect x="63.60" y="225.10" width="22.10" height="7.30" fill="#fff" stroke="#999" stroke-width="1"/>
<text x="88.60" y="232.35" font-family="'Liberation Serif', serif" font-size="10.2" font-weight="400" text-anchor="start" fill="#111" >Rituximab</text>
<rect x="63.60" y="238.20" width="22.10" height="7.60" fill="#c0c0c0" stroke="#909090" stroke-width="1"/>
<text x="88.60" y="245.60" font-family="'Liberation Serif', serif" font-size="10.2" font-weight="400" text-anchor="start" fill="#111" >triple mutant</text>
<text transform="translate(21.8,273.2) rotate(-90)" font-family="'Liberation Serif', serif" font-size="10.8" text-anchor="middle" fill="#111">% Lysed cells</text>
<line x1="314.00" y1="200.30" x2="314.00" y2="346.50" stroke="#888" stroke-width="1.5"/>
<line x1="313.40" y1="344.00" x2="519.50" y2="344.00" stroke="#888" stroke-width="1.5"/>
<line x1="311.00" y1="344.00" x2="314.00" y2="344.00" stroke="#888" stroke-width="1.5"/>
<text x="309.50" y="347.96" font-family="'Liberation Serif', serif" font-size="14" font-weight="400" text-anchor="end" fill="#111" >0</text>
<line x1="312.20" y1="329.63" x2="314.00" y2="329.63" stroke="#888" stroke-width="1.5"/>
<line x1="311.00" y1="315.26" x2="314.00" y2="315.26" stroke="#888" stroke-width="1.5"/>
<text x="309.50" y="319.22" font-family="'Liberation Serif', serif" font-size="14" font-weight="400" text-anchor="end" fill="#111" >20</text>
<line x1="312.20" y1="300.89" x2="314.00" y2="300.89" stroke="#888" stroke-width="1.5"/>
<line x1="311.00" y1="286.52" x2="314.00" y2="286.52" stroke="#888" stroke-width="1.5"/>
<text x="309.50" y="290.48" font-family="'Liberation Serif', serif" font-size="14" font-weight="400" text-anchor="end" fill="#111" >40</text>
<line x1="312.20" y1="272.15" x2="314.00" y2="272.15" stroke="#888" stroke-width="1.5"/>
<line x1="311.00" y1="257.78" x2="314.00" y2="257.78" stroke="#888" stroke-width="1.5"/>
<text x="309.50" y="261.74" font-family="'Liberation Serif', serif" font-size="14" font-weight="400" text-anchor="end" fill="#111" >60</text>
<line x1="312.20" y1="243.41" x2="314.00" y2="243.41" stroke="#888" stroke-width="1.5"/>
<line x1="311.00" y1="229.04" x2="314.00" y2="229.04" stroke="#888" stroke-width="1.5"/>
<text x="309.50" y="233.00" font-family="'Liberation Serif', serif" font-size="14" font-weight="400" text-anchor="end" fill="#111" >80</text>
<line x1="312.20" y1="214.67" x2="314.00" y2="214.67" stroke="#888" stroke-width="1.5"/>
<line x1="311.00" y1="200.30" x2="314.00" y2="200.30" stroke="#888" stroke-width="1.5"/>
<text x="309.50" y="204.26" font-family="'Liberation Serif', serif" font-size="14" font-weight="400" text-anchor="end" fill="#111" >100</text>
<line x1="334.55" y1="344.00" x2="334.55" y2="345.80" stroke="#888" stroke-width="1.5"/>
<line x1="355.10" y1="344.00" x2="355.10" y2="347.00" stroke="#888" stroke-width="1.5"/>
<line x1="375.65" y1="344.00" x2="375.65" y2="345.80" stroke="#888" stroke-width="1.5"/>
<line x1="396.20" y1="344.00" x2="396.20" y2="347.00" stroke="#888" stroke-width="1.5"/>
<line x1="416.75" y1="344.00" x2="416.75" y2="345.80" stroke="#888" stroke-width="1.5"/>
<line x1="437.30" y1="344.00" x2="437.30" y2="347.00" stroke="#888" stroke-width="1.5"/>
<line x1="457.85" y1="344.00" x2="457.85" y2="345.80" stroke="#888" stroke-width="1.5"/>
<line x1="478.40" y1="344.00" x2="478.40" y2="347.00" stroke="#888" stroke-width="1.5"/>
<line x1="498.95" y1="344.00" x2="498.95" y2="345.80" stroke="#888" stroke-width="1.5"/>
<line x1="519.50" y1="344.00" x2="519.50" y2="347.00" stroke="#888" stroke-width="1.5"/>
<text x="355.20" y="356.90" font-family="'Liberation Serif', serif" font-size="12" font-weight="400" text-anchor="middle" fill="#111" >Raji</text>
<line x1="341.80" y1="338.25" x2="341.80" y2="336.67" stroke="#222" stroke-width="1"/>
<line x1="339.80" y1="336.67" x2="343.80" y2="336.67" stroke="#222" stroke-width="1"/>
<rect x="338.95" y="338.75" width="5.70" height="5.25" fill="#000" stroke="#000" stroke-width="1"/>
<line x1="348.50" y1="326.32" x2="348.50" y2="322.16" stroke="#222" stroke-width="1"/>
<line x1="346.50" y1="322.16" x2="350.50" y2="322.16" stroke="#222" stroke-width="1"/>
<rect x="345.65" y="326.82" width="5.70" height="17.18" fill="#fff" stroke="#999" stroke-width="1"/>
<line x1="355.20" y1="316.41" x2="355.20" y2="312.24" stroke="#222" stroke-width="1"/>
<line x1="353.20" y1="312.24" x2="357.20" y2="312.24" stroke="#222" stroke-width="1"/>
<rect x="352.35" y="316.91" width="5.70" height="27.09" fill="#c0c0c0" stroke="#909090" stroke-width="1"/>
<line x1="361.90" y1="295.14" x2="361.90" y2="286.23" stroke="#aaa" stroke-width="0.8"/>
<line x1="360.40" y1="286.23" x2="363.40" y2="286.23" stroke="#aaa" stroke-width="1"/>
<rect x="359.05" y="295.64" width="5.70" height="48.36" fill="url(#hf)" stroke="#999" stroke-width="1"/>
<line x1="368.60" y1="251.46" x2="368.60" y2="243.98" stroke="#222" stroke-width="1"/>
<line x1="366.60" y1="243.98" x2="370.60" y2="243.98" stroke="#222" stroke-width="1"/>
<rect x="365.75" y="251.96" width="5.70" height="92.04" fill="url(#hb)" stroke="#999" stroke-width="1"/>
<text x="396.30" y="356.90" font-family="'Liberation Serif', serif" font-size="12" font-weight="400" text-anchor="middle" fill="#111" >Raji-R</text>
<line x1="382.90" y1="338.11" x2="382.90" y2="335.23" stroke="#222" stroke-width="1"/>
<line x1="380.90" y1="335.23" x2="384.90" y2="335.23" stroke="#222" stroke-width="1"/>
<rect x="380.05" y="338.61" width="5.70" height="5.39" fill="#000" stroke="#000" stroke-width="1"/>
<line x1="389.60" y1="335.23" x2="389.60" y2="332.36" stroke="#222" stroke-width="1"/>
<line x1="387.60" y1="332.36" x2="391.60" y2="332.36" stroke="#222" stroke-width="1"/>
<rect x="386.75" y="335.73" width="5.70" height="8.27" fill="#fff" stroke="#999" stroke-width="1"/>
<line x1="396.30" y1="330.20" x2="396.30" y2="327.91" stroke="#222" stroke-width="1"/>
<line x1="394.30" y1="327.91" x2="398.30" y2="327.91" stroke="#222" stroke-width="1"/>
<rect x="393.45" y="330.70" width="5.70" height="13.30" fill="#c0c0c0" stroke="#909090" stroke-width="1"/>
<line x1="403.00" y1="300.46" x2="403.00" y2="296.15" stroke="#aaa" stroke-width="0.8"/>
<line x1="401.50" y1="296.15" x2="404.50" y2="296.15" stroke="#aaa" stroke-width="1"/>
<rect x="400.15" y="300.96" width="5.70" height="43.04" fill="url(#hf)" stroke="#999" stroke-width="1"/>
<line x1="409.70" y1="291.26" x2="409.70" y2="283.65" stroke="#222" stroke-width="1"/>
<line x1="407.70" y1="283.65" x2="411.70" y2="283.65" stroke="#222" stroke-width="1"/>
<rect x="406.85" y="291.76" width="5.70" height="52.24" fill="url(#hb)" stroke="#999" stroke-width="1"/>
<text x="437.40" y="356.90" font-family="'Liberation Serif', serif" font-size="12" font-weight="400" text-anchor="middle" fill="#111" >Daudi</text>
<line x1="424.00" y1="334.80" x2="424.00" y2="331.64" stroke="#222" stroke-width="1"/>
<line x1="422.00" y1="331.64" x2="426.00" y2="331.64" stroke="#222" stroke-width="1"/>
<rect x="421.15" y="335.30" width="5.70" height="8.70" fill="#000" stroke="#000" stroke-width="1"/>
<line x1="430.70" y1="328.34" x2="430.70" y2="323.74" stroke="#222" stroke-width="1"/>
<line x1="428.70" y1="323.74" x2="432.70" y2="323.74" stroke="#222" stroke-width="1"/>
<rect x="427.85" y="328.84" width="5.70" height="15.16" fill="#fff" stroke="#999" stroke-width="1"/>
<line x1="437.40" y1="294.14" x2="437.40" y2="288.24" stroke="#222" stroke-width="1"/>
<line x1="435.40" y1="288.24" x2="439.40" y2="288.24" stroke="#222" stroke-width="1"/>
<rect x="434.55" y="294.64" width="5.70" height="49.36" fill="#c0c0c0" stroke="#909090" stroke-width="1"/>
<line x1="444.10" y1="281.06" x2="444.10" y2="274.31" stroke="#aaa" stroke-width="0.8"/>
<line x1="442.60" y1="274.31" x2="445.60" y2="274.31" stroke="#aaa" stroke-width="1"/>
<rect x="441.25" y="281.56" width="5.70" height="62.44" fill="url(#hf)" stroke="#999" stroke-width="1"/>
<line x1="450.80" y1="244.85" x2="450.80" y2="237.95" stroke="#222" stroke-width="1"/>
<line x1="448.80" y1="237.95" x2="452.80" y2="237.95" stroke="#222" stroke-width="1"/>
<rect x="447.95" y="245.35" width="5.70" height="98.65" fill="url(#hb)" stroke="#999" stroke-width="1"/>
<text x="478.50" y="356.90" font-family="'Liberation Serif', serif" font-size="12" font-weight="400" text-anchor="middle" fill="#111" >Daudi-R</text>
<line x1="465.10" y1="334.80" x2="465.10" y2="331.50" stroke="#222" stroke-width="1"/>
<line x1="463.10" y1="331.50" x2="467.10" y2="331.50" stroke="#222" stroke-width="1"/>
<rect x="462.25" y="335.30" width="5.70" height="8.70" fill="#000" stroke="#000" stroke-width="1"/>
<line x1="471.80" y1="336.96" x2="471.80" y2="333.65" stroke="#222" stroke-width="1"/>
<line x1="469.80" y1="333.65" x2="473.80" y2="333.65" stroke="#222" stroke-width="1"/>
<rect x="468.95" y="337.46" width="5.70" height="6.54" fill="#fff" stroke="#999" stroke-width="1"/>
<line x1="478.50" y1="320.15" x2="478.50" y2="314.54" stroke="#222" stroke-width="1"/>
<line x1="476.50" y1="314.54" x2="480.50" y2="314.54" stroke="#222" stroke-width="1"/>
<rect x="475.65" y="320.65" width="5.70" height="23.35" fill="#c0c0c0" stroke="#909090" stroke-width="1"/>
<line x1="485.20" y1="295.72" x2="485.20" y2="289.39" stroke="#aaa" stroke-width="0.8"/>
<line x1="483.70" y1="289.39" x2="486.70" y2="289.39" stroke="#aaa" stroke-width="1"/>
<rect x="482.35" y="296.22" width="5.70" height="47.78" fill="url(#hf)" stroke="#999" stroke-width="1"/>
<line x1="491.90" y1="282.64" x2="491.90" y2="275.89" stroke="#222" stroke-width="1"/>
<line x1="489.90" y1="275.89" x2="493.90" y2="275.89" stroke="#222" stroke-width="1"/>
<rect x="489.05" y="283.14" width="5.70" height="60.86" fill="url(#hb)" stroke="#999" stroke-width="1"/>
<rect x="333.90" y="184.00" width="22.10" height="7.50" fill="#000" stroke="#000" stroke-width="1"/>
<text x="359.70" y="191.35" font-family="'Liberation Serif', serif" font-size="10.2" font-weight="400" text-anchor="start" fill="#111" >control</text>
<rect x="333.90" y="196.20" width="22.10" height="8.00" fill="#fff" stroke="#999" stroke-width="1"/>
<text x="359.70" y="203.80" font-family="'Liberation Serif', serif" font-size="10.2" font-weight="400" text-anchor="start" fill="#111" >Rituximab</text>
<rect x="333.90" y="208.70" width="22.10" height="8.20" fill="#c0c0c0" stroke="#909090" stroke-width="1"/>
<text x="359.70" y="216.40" font-family="'Liberation Serif', serif" font-size="10.2" font-weight="400" text-anchor="start" fill="#111" >Rituximab + x-link</text>
<rect x="333.90" y="221.60" width="22.10" height="8.20" fill="url(#hf)" stroke="#999" stroke-width="1"/>
<text x="359.70" y="229.30" font-family="'Liberation Serif', serif" font-size="10.2" font-weight="400" text-anchor="start" fill="#111" >triple mutant</text>
<rect x="333.90" y="234.30" width="22.10" height="8.00" fill="url(#hb)" stroke="#999" stroke-width="1"/>
<text x="359.70" y="241.90" font-family="'Liberation Serif', serif" font-size="10.2" font-weight="400" text-anchor="start" fill="#111" >triple mutant + x-link</text>
<text transform="translate(289.2,271.6) rotate(-90)" font-family="'Liberation Serif', serif" font-size="10.7" text-anchor="middle" fill="#111">% Apoptotic cells</text>
</svg>
</body></html>
